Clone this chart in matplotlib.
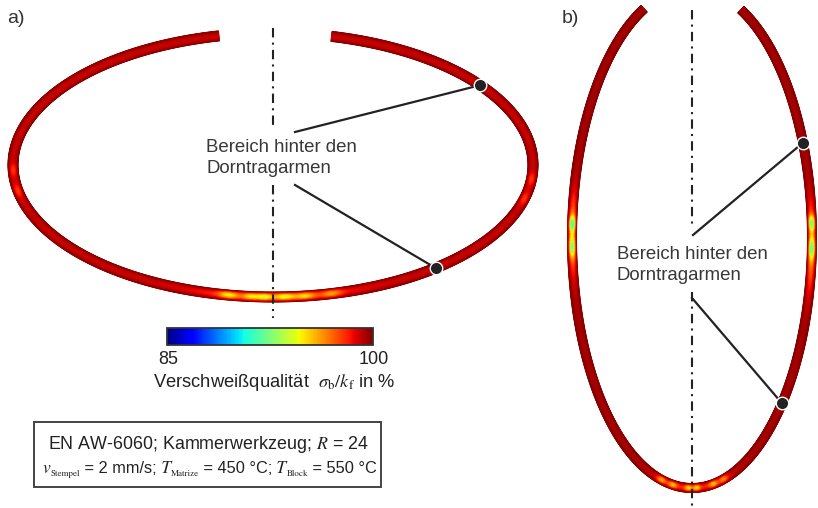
import numpy as np
import matplotlib
matplotlib.use("Agg")
import matplotlib.pyplot as plt
from matplotlib.colors import Normalize
from matplotlib.cm import ScalarMappable
from matplotlib.patches import Rectangle

plt.rcParams['font.family'] = ['Liberation Sans', 'DejaVu Sans']
plt.rcParams['mathtext.fontset'] = 'stix'

# === Canvas (pixel space) ===
W, H = 818, 508
VMIN, VMAX = 85, 100

# === Ring geometry: centre x/y, semi-axes, band width, open arc (deg from top, clockwise) ===
RING_A_GEOM = [273, 165, 260, 132, 10]
RING_A_ARC = [13, 348]
RING_B_GEOM = [692, 238, 120, 250, 9]
RING_B_ARC = [24, 336.5]

# weld quality in the middle of the band (edges are 100 %)
RING_A_BASE = 99.0
RING_B_BASE = 99.45

# local drops of weld quality: position (deg), drop (%), spread (deg)
SPOTS_A_POS = [180, 190, 185, 182, 177.5, 173, 167, 96.5, 105, 259, 268]
SPOTS_A_DROP = [1.8, 3.2, 2.6, 3.2, 3.0, 2.6, 2.2, 1.3, 1.3, 1.3, 1.3]
SPOTS_A_WID = [11, 1.5, 1.2, 1.2, 1.5, 1.5, 1.5, 2.0, 2.0, 2.0, 2.0]

SPOTS_B_POS = [92, 86.6, 92.5, 271, 273.4, 268, 180, 195, 189.5, 182, 178, 170, 165]
SPOTS_B_DROP = [3.6, 4.8, 4.0, 3.6, 4.8, 4.0, 1.5, 3.0, 3.0, 3.0, 3.0, 3.0, 2.5]
SPOTS_B_WID = [6.5, 1.2, 1.6, 6.0, 1.2, 1.6, 12, 1.5, 1.5, 1.2, 1.2, 1.5, 1.5]

# === Annotations ===
LABEL_LINES = ["Bereich hinter den", "Dorntragarmen"]
LABEL_A_XY = [206, 152]
LABEL_B_XY = [617, 259]
LINE_STEP = 21
LEADER_A_FROM = [[295, 132], [295, 185]]
LEADER_A_TO_DEG = [52.8, 141.3]
LEADER_B_FROM = [[693, 235], [692, 298]]
LEADER_B_TO_DEG = [67.6, 131.4]

AXIS_A_X = 273
AXIS_A_SEGS = [[28, 130], [185, 318]]
AXIS_B_X = 692
AXIS_B_SEGS = [[10, 228], [292, 508]]

CB_TICKS = [85, 100]
CB_LABEL = r"Verschweißqualität  $\sigma_\mathrm{b}/k_\mathrm{f}$ in %"
BOX_LINE1 = r"EN AW-6060; Kammerwerkzeug; $R$ = 24"
# second line as (text, kind) pieces: s = sans, i = serif italic, sub = serif subscript
BOX_LINE2 = [("v", "i"), ("Stempel", "sub"), (" = 2 mm/s;", "s"),
             (" T", "i"), ("Matrize", "sub"), (" = 450 °C;", "s"),
             (" T", "i"), ("Block", "sub"), (" = 550 °C", "s")]
BOX_LINE2_WIDTH = 336

cmap = plt.get_cmap('jet')
norm = Normalize(VMIN, VMAX)


def ring_point(geom, deg):
    cx, cy, a, b, _ = geom
    th = np.radians(deg)
    return cx + a * np.sin(th), cy - b * np.cos(th)


def draw_ring(ax, geom, arc, base, pos, drop, wid):
    cx, cy, a, b, w = geom
    th = np.radians(np.linspace(arc[0], arc[1], 1800))
    s = np.linspace(-1, 1, 11)
    TH, S = np.meshgrid(th, s, indexing='ij')
    nx = np.sin(TH) / a
    ny = -np.cos(TH) / b
    nn = np.hypot(nx, ny)
    X = cx + a * np.sin(TH) + S * w / 2 * nx / nn
    Y = cy - b * np.cos(TH) + S * w / 2 * ny / nn
    prof = 1 - S ** 2
    val = VMAX - (VMAX - base) * prof
    deg = np.degrees(TH)
    for p, d, sw in zip(pos, drop, wid):
        val -= d * np.exp(-0.5 * ((deg - p) / sw) ** 2) * prof ** 1.5
    val = np.clip(val, VMIN, VMAX)
    ax.pcolormesh(X, Y, val, cmap=cmap, norm=norm, shading='gouraud',
                  antialiased=True, zorder=2)


def draw_pieces(ax, x0, y0, pieces, scale):
    r = ax.figure.canvas.get_renderer()
    styles = {"s": dict(fontsize=12.4 * scale),
              "i": dict(fontsize=13.2 * scale, family='STIXGeneral', style='italic'),
              "sub": dict(fontsize=6.8 * scale, family='STIXGeneral')}
    x = x0
    arts = []
    for txt, kind in pieces:
        dy = 3.5 * scale if kind == "sub" else 0
        t = ax.text(x, y0 + dy, txt, color='#222222', va='baseline', **styles[kind])
        x += t.get_window_extent(renderer=r).width
        arts.append(t)
    return x - x0, arts


fig = plt.figure(figsize=(W / 100, H / 100), dpi=100)
ax = fig.add_axes([0, 0, 1, 1])
ax.set_xlim(0, W)
ax.set_ylim(H, 0)
ax.axis('off')

draw_ring(ax, RING_A_GEOM, RING_A_ARC, RING_A_BASE, SPOTS_A_POS, SPOTS_A_DROP, SPOTS_A_WID)
draw_ring(ax, RING_B_GEOM, RING_B_ARC, RING_B_BASE, SPOTS_B_POS, SPOTS_B_DROP, SPOTS_B_WID)

# symmetry axes
dash = (0, (4.5, 2.5, 1, 2.5))
for x0, segs in [(AXIS_A_X, AXIS_A_SEGS), (AXIS_B_X, AXIS_B_SEGS)]:
    for y0, y1 in segs:
        ax.plot([x0, x0], [y0, y1], color='#222222', lw=1.5, linestyle=dash, zorder=3)

# leaders + dots
for geom, starts, degs in [(RING_A_GEOM, LEADER_A_FROM, LEADER_A_TO_DEG),
                           (RING_B_GEOM, LEADER_B_FROM, LEADER_B_TO_DEG)]:
    for (x0, y0), d in zip(starts, degs):
        x1, y1 = ring_point(geom, d)
        ax.plot([x0, x1], [y0, y1], color='#222222', lw=1.6, zorder=4)
        ax.plot(x1, y1, 'o', ms=9, mfc='#222222', mec='white', mew=1.0, zorder=5)

for x, y in [LABEL_A_XY, LABEL_B_XY]:
    for i, line in enumerate(LABEL_LINES):
        ax.text(x, y + i * LINE_STEP, line, fontsize=13.4, color='#383838',
                ha='left', va='baseline', zorder=6)

ax.text(7, 23, "a)", fontsize=14, color='#333333', va='baseline')
ax.text(562, 23, "b)", fontsize=14, color='#333333', va='baseline')

# colorbar
cax = fig.add_axes([167 / W, 1 - 345 / H, 206 / W, 17 / H])
cb = fig.colorbar(ScalarMappable(norm=norm, cmap=cmap), cax=cax, orientation='horizontal')
cb.set_ticks([])
cb.outline.set_linewidth(1.3)
cb.outline.set_edgecolor('#333333')
for t, x in zip(CB_TICKS, [168, 374]):
    ax.text(x, 364, str(t), fontsize=13, color='#222222', ha='center', va='baseline')
ax.text(274, 387, CB_LABEL, fontsize=13.2, color='#222222', ha='center', va='baseline')

# parameter box
ax.add_patch(Rectangle((34, 422), 347, 65, fill=False, ec='#444444', lw=1.4, zorder=6))
ax.text(48, 449, BOX_LINE1, fontsize=12.9, color='#222222', va='baseline')
width, arts = draw_pieces(ax, 43, 473, BOX_LINE2, 1.0)
if width > BOX_LINE2_WIDTH:
    for a in arts:
        a.remove()
    draw_pieces(ax, 43, 473, BOX_LINE2, BOX_LINE2_WIDTH / width)

fig.savefig("out.png", dpi=100)
